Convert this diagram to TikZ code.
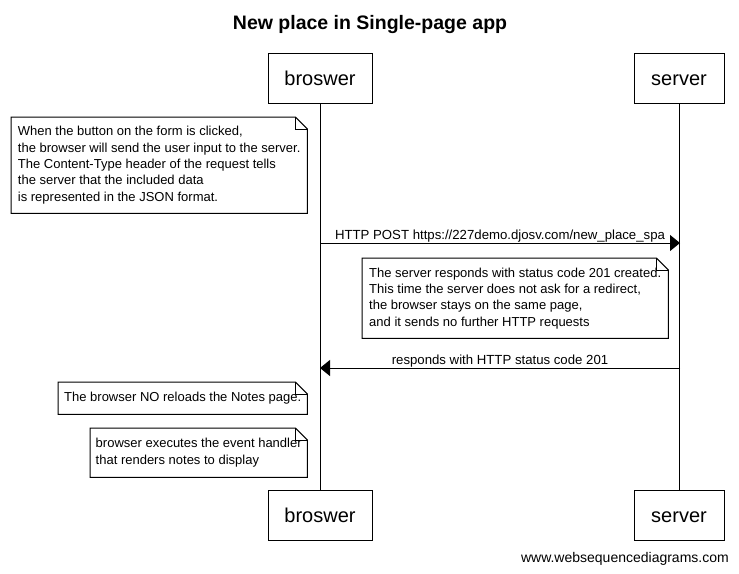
\documentclass[tikz,border=0pt]{standalone}
\usepackage{fontspec}
\setmainfont{Liberation Sans}
\usetikzlibrary{arrows.meta, calc}

\tikzset{
    actor/.style={draw, line width=1pt, fill=white, text height=14pt, text depth=0pt,
        font=\fontsize{20}{23}\selectfont},
    note/.style={anchor=north west, inner xsep=5pt, inner ysep=0pt, align=left,
        font=\fontsize{13}{16.3}\selectfont},
    msg/.style={line width=1pt, -{Triangle[length=10pt,width=16pt]}},
    msglabel/.style={above, font=\fontsize{13.2}{15}\selectfont, inner sep=0.5pt},
    lifeline/.style={line width=1pt}
}

\begin{document}
\begin{tikzpicture}[x=1pt, y=-1pt]
    \useasboundingbox[fill=white] (0,0) rectangle (739,573);
    \node[font=\bfseries\fontsize{19.5}{23}\selectfont](title) at (370,24){New place in Single-page app};
    % participants
    \node[actor, minimum width=104, minimum height=50](b1) at (320,78){broswer};
    \node[actor, minimum width=90, minimum height=50](s1) at (679,78){server};
    \node[actor, minimum width=104, minimum height=50](b2) at (320,515){broswer};
    \node[actor, minimum width=90, minimum height=50](s2) at (679,515){server};
    \draw[lifeline] (b1) -- (b2);
    \draw[lifeline] (s1) -- (s2);
    % notes
    \node[note, minimum width=296, minimum height=96](n1) at (11,117){When the button on the form is clicked,\\the browser will send the user input to the server.\\The Content-Type header of the request tells\\the server that the included data\\is represented in the JSON format.};
    \node[note, minimum width=306, minimum height=80](n2) at (362,258){The server responds with status code 201 created.\\This time the server does not ask for a redirect,\\the browser stays on the same page,\\and it sends no further HTTP requests};
    \node[note, minimum width=249, minimum height=32](n3) at (58,382){The browser NO reloads the Notes page.};
    \node[note, minimum width=217, minimum height=49](n4) at (90,428){browser executes the event handler\\that renders notes to display};
    \foreach \n in {n1,n2,n3,n4}{
        \draw[line width=1pt] ($(\n.north east)+(-12,0)$) -- (\n.north west) -- (\n.south west)
            -- (\n.south east) -- ($(\n.north east)+(0,12)$) -- cycle;
        \draw[line width=1pt] ($(\n.north east)+(-12,0)$) |- ($(\n.north east)+(0,12)$);
    }
    % messages
    \coordinate (bpost) at (320,243);
    \coordinate (spost) at (680,243);
    \coordinate (sresp) at (680,368);
    \coordinate (bresp) at (320,368);
    \draw[msg] (bpost) -- node[msglabel]{HTTP POST https://227demo.djosv.com/new\_place\_spa} (spost);
    \draw[msg] (sresp) -- node[msglabel]{responds with HTTP status code 201} (bresp);
    \node[anchor=east, inner sep=0pt, font=\fontsize{14}{16}\selectfont](site) at (729,559){www.websequencediagrams.com};
\end{tikzpicture}
\end{document}
